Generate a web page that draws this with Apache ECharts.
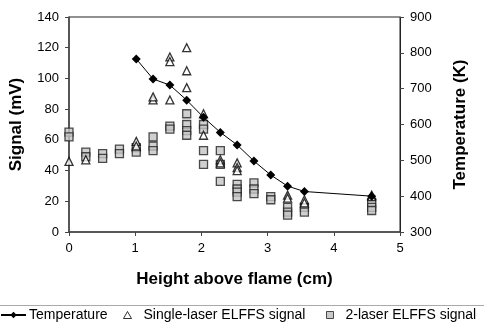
<!DOCTYPE html>
<html>
<head>
<meta charset="utf-8">
<script src="https://cdn.jsdelivr.net/npm/echarts@6/dist/echarts.min.js"></script>
<style>html,body{margin:0;padding:0;background:#fff}#c{width:484px;height:327px}</style>
</head>
<body>
<div id="c"></div>
<script>
// Heights above flame (cm)
const tempHeights = [1.016, 1.27, 1.524, 1.778, 2.032, 2.286, 2.54, 2.794, 3.048, 3.302, 3.556, 4.572];
const temperature = [783, 727, 710, 668, 620, 578, 543, 498, 459, 428, 413, 400];

const signalHeights = [0, 0.254, 0.508, 0.762, 1.016, 1.27, 1.524, 1.778, 2.032, 2.286, 2.54, 2.794, 3.048, 3.302, 3.556, 4.572];
// Single-laser ELFFS signal (mV), several shots per height
const singleLaser = [
  [46], [47], [], [], [59, 56], [86, 88], [114, 111, 86], [120, 105, 94],
  [77, 63], [47, 45], [45, 42, 40], [], [], [24, 22], [21, 19], [24, 23]
];
// 2-laser ELFFS signal (mV)
const twoLaser = [
  [65, 62], [52, 49], [51, 48], [54, 51], [55, 52], [62, 56, 53], [69, 67], [77, 70, 66, 63],
  [70, 67, 53, 44], [53, 44, 33], [31, 28, 26, 23], [32, 28, 25], [23, 21], [16, 13, 11], [16, 13], [19, 16, 14]
];

const leftTicks = { min: 0, max: 140, interval: 20 };
const rightTicks = { min: 300, max: 900, interval: 100 };
const xTicks = { min: 0, max: 5, interval: 1 };

function flatten(xs, groups) {
  const out = [];
  groups.forEach((g, i) => g.forEach(v => out.push([xs[i], v])));
  return out;
}

const font = '"Liberation Sans", Arial, sans-serif';
const legendText = { fontSize: 14, fontFamily: font, color: '#000' };
const nameStyle = { fontSize: 17, fontWeight: 'bold', fontFamily: font, color: '#000' };
const chart = echarts.init(document.getElementById('c'), null, { renderer: 'canvas' });
chart.setOption({
  animation: false,
  backgroundColor: '#fff',
  textStyle: { fontFamily: font, color: '#000' },
  grid: { left: 69, right: 84, top: 17, bottom: 95, show: true, borderColor: '#222', borderWidth: 1 },
  xAxis: {
    type: 'value', min: xTicks.min, max: xTicks.max, interval: xTicks.interval,
    name: 'Height above flame (cm)', nameLocation: 'middle', nameGap: 39,
    nameTextStyle: nameStyle,
    axisLine: { lineStyle: { color: '#444', width: 1.5 } },
    axisTick: { show: true, length: 4, lineStyle: { color: '#444' } },
    axisLabel: { fontSize: 13, color: '#000', fontFamily: font, margin: 10 },
    splitLine: { show: false }
  },
  yAxis: [{
    type: 'value', min: leftTicks.min, max: leftTicks.max, interval: leftTicks.interval,
    name: 'Signal (mV)', nameLocation: 'middle', nameGap: 44, nameRotate: 90,
    nameTextStyle: nameStyle,
    axisLine: { show: true, lineStyle: { color: '#444', width: 1.5 } },
    axisTick: { show: true, length: 4, lineStyle: { color: '#444' } },
    axisLabel: { fontSize: 13, color: '#000', fontFamily: font, margin: 10 },
    splitLine: { show: false }
  }, {
    type: 'value', position: 'right', min: rightTicks.min, max: rightTicks.max, interval: rightTicks.interval,
    name: 'Temperature (K)', nameLocation: 'middle', nameGap: 52, nameRotate: 90,
    nameTextStyle: nameStyle,
    axisLine: { show: true, lineStyle: { color: '#222', width: 1 } },
    axisTick: { show: true, length: 4, lineStyle: { color: '#444' } },
    axisLabel: { fontSize: 13, color: '#000', fontFamily: font, margin: 10 },
    splitLine: { show: false }
  }],
  legend: [{
    top: 308, left: 0, itemWidth: 25, itemHeight: 8, padding: 0,
    textStyle: Object.assign({ padding: [0, 0, 0, -2] }, legendText),
    data: [{ name: 'Temperature' }]
  }, {
    top: 308, left: 123, itemWidth: 8, itemHeight: 7, padding: 0,
    textStyle: Object.assign({ padding: [0, 0, 0, 7] }, legendText),
    data: [{ name: 'Single-laser ELFFS signal', icon: 'triangle', itemStyle: { color: '#fff', borderColor: '#000', borderWidth: 1 } }]
  }, {
    top: 308, left: 326, itemWidth: 7, itemHeight: 7, padding: 0,
    textStyle: Object.assign({ padding: [0, 0, 0, 7] }, legendText),
    data: [{ name: '2-laser ELFFS signal', icon: 'rect', itemStyle: { color: '#bbb', borderColor: '#222', borderWidth: 1 } }]
  }],
  graphic: [{ type: 'line', shape: { x1: 0, y1: 305.5, x2: 484, y2: 305.5 }, style: { stroke: '#aaa', lineWidth: 1 } }],
  series: [{
    name: '2-laser ELFFS signal', type: 'scatter', yAxisIndex: 0,
    symbol: 'rect', symbolSize: 8,
    itemStyle: { color: '#c4c4c4', borderColor: '#222', borderWidth: 1.3 },
    data: flatten(signalHeights, twoLaser), z: 2
  }, {
    name: 'Single-laser ELFFS signal', type: 'scatter', yAxisIndex: 0,
    symbol: 'triangle', symbolSize: 8,
    itemStyle: { color: '#fff', borderColor: '#000', borderWidth: 1.3 },
    data: flatten(signalHeights, singleLaser), z: 3
  }, {
    name: 'Temperature', type: 'line', yAxisIndex: 1,
    symbol: 'diamond', symbolSize: 9, showSymbol: true,
    lineStyle: { color: '#000', width: 1 },
    itemStyle: { color: '#000' },
    data: tempHeights.map((h, i) => [h, temperature[i]]), z: 4
  }]
});
</script>
</body>
</html>
